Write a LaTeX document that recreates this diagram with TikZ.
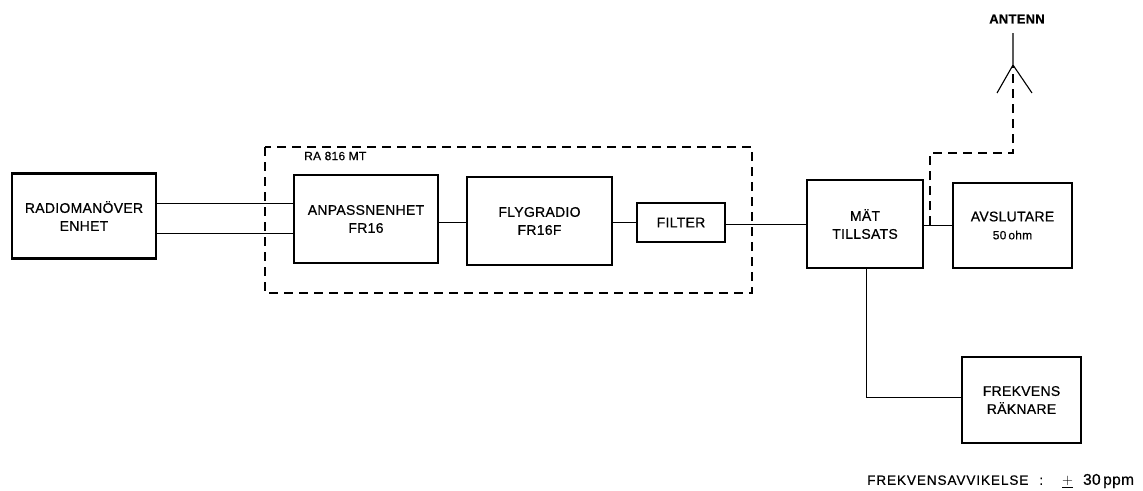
\documentclass[tikz,border=0pt]{standalone}
\usepackage{fontspec}
\setmainfont{Liberation Sans}
\newfontfamily\lab[LetterSpace=2,FakeBold=0.6]{Liberation Sans}
\newfontfamily\labwide[LetterSpace=7,FakeBold=0.6]{Liberation Sans}
\begin{document}
\begin{tikzpicture}[x=1pt,y=-1pt,
  blk/.style={draw,line width=2.8pt,inner sep=0pt,align=center,font=\lab\fontsize{14}{18}\selectfont},
  wire/.style={line width=0.9pt},
  dsh/.style={line width=1.4pt,dash pattern=on 9pt off 6pt},
  txt/.style={inner sep=0pt,font=\lab\fontsize{12}{14}\selectfont}]
\useasboundingbox (0,0) rectangle (1143,490);
% dashed group box
\draw[dsh] (265,147) rectangle (752,293);
\node[txt,anchor=west] (ra) at (304,156) {RA 816 MT};
% blocks
\node[blk,minimum width=144pt,minimum height=85pt] (rme) at (84,216) {RADIOMANÖVER\\ENHET};
\node[blk,minimum width=144pt,minimum height=88pt] (anp) at (366,219) {ANPASSNENHET\\FR16};
\node[blk,minimum width=145pt,minimum height=88pt] (fly) at (539.5,221) {FLYGRADIO\\FR16F};
\node[blk,minimum width=88pt,minimum height=39pt] (fil) at (681,222.5) {FILTER};
\node[blk,minimum width=116pt,minimum height=88pt] (mat) at (865,224) {MÄT\\TILLSATS};
\node[blk,minimum width=119pt,minimum height=85pt] (avs) at (1012.5,225.5) {AVSLUTARE\\{\fontsize{12}{16}\selectfont 50\,ohm}};
\node[blk,minimum width=119pt,minimum height=86pt] (frk) at (1021.5,400) {FREKVENS\\RÄKNARE};
% connectors
\draw[wire] (rme.east |- 0,203) -- (anp.west |- 0,203);
\draw[wire] (rme.east |- 0,233) -- (anp.west |- 0,233);
\draw[wire] (anp.east |- 0,222) -- (fly.west |- 0,222);
\draw[wire] (fly.east |- 0,222) -- (fil.west |- 0,222);
\draw[wire] (fil.east |- 0,224) -- (mat.west |- 0,224);
\draw[wire] (mat.east |- 0,225) -- (avs.west |- 0,225);
\coordinate (cnr) at (866,397);
\draw[wire] (mat.south -| cnr) -- (cnr) -- (frk.west |- cnr);
% antenna
\coordinate (tap) at (930,225);
\coordinate (ajn) at (1013,65);
\coordinate (atop) at (1013,33);
\coordinate (al) at (997,93);
\coordinate (ar) at (1032,93);
\draw[dsh] (tap) -- (930,153) -- (1013,153) -- (ajn);
\draw[line width=1.1pt] (atop) -- (ajn) (al) -- (ajn) -- (ar);
\node[txt,font=\lab\bfseries\fontsize{13}{15}\selectfont] (ant) at (1017,19) {ANTENN};
% footer
\node[txt,anchor=west,font=\labwide\fontsize{13.5}{15}\selectfont] (foot) at (867,481) {FREKVENSAVVIKELSE\hspace{11pt}:\hspace{19pt}$\underline{+}$\hspace{10pt}{\lab\fontsize{15.5}{16}\selectfont 30\,ppm}};
\end{tikzpicture}
\end{document}
